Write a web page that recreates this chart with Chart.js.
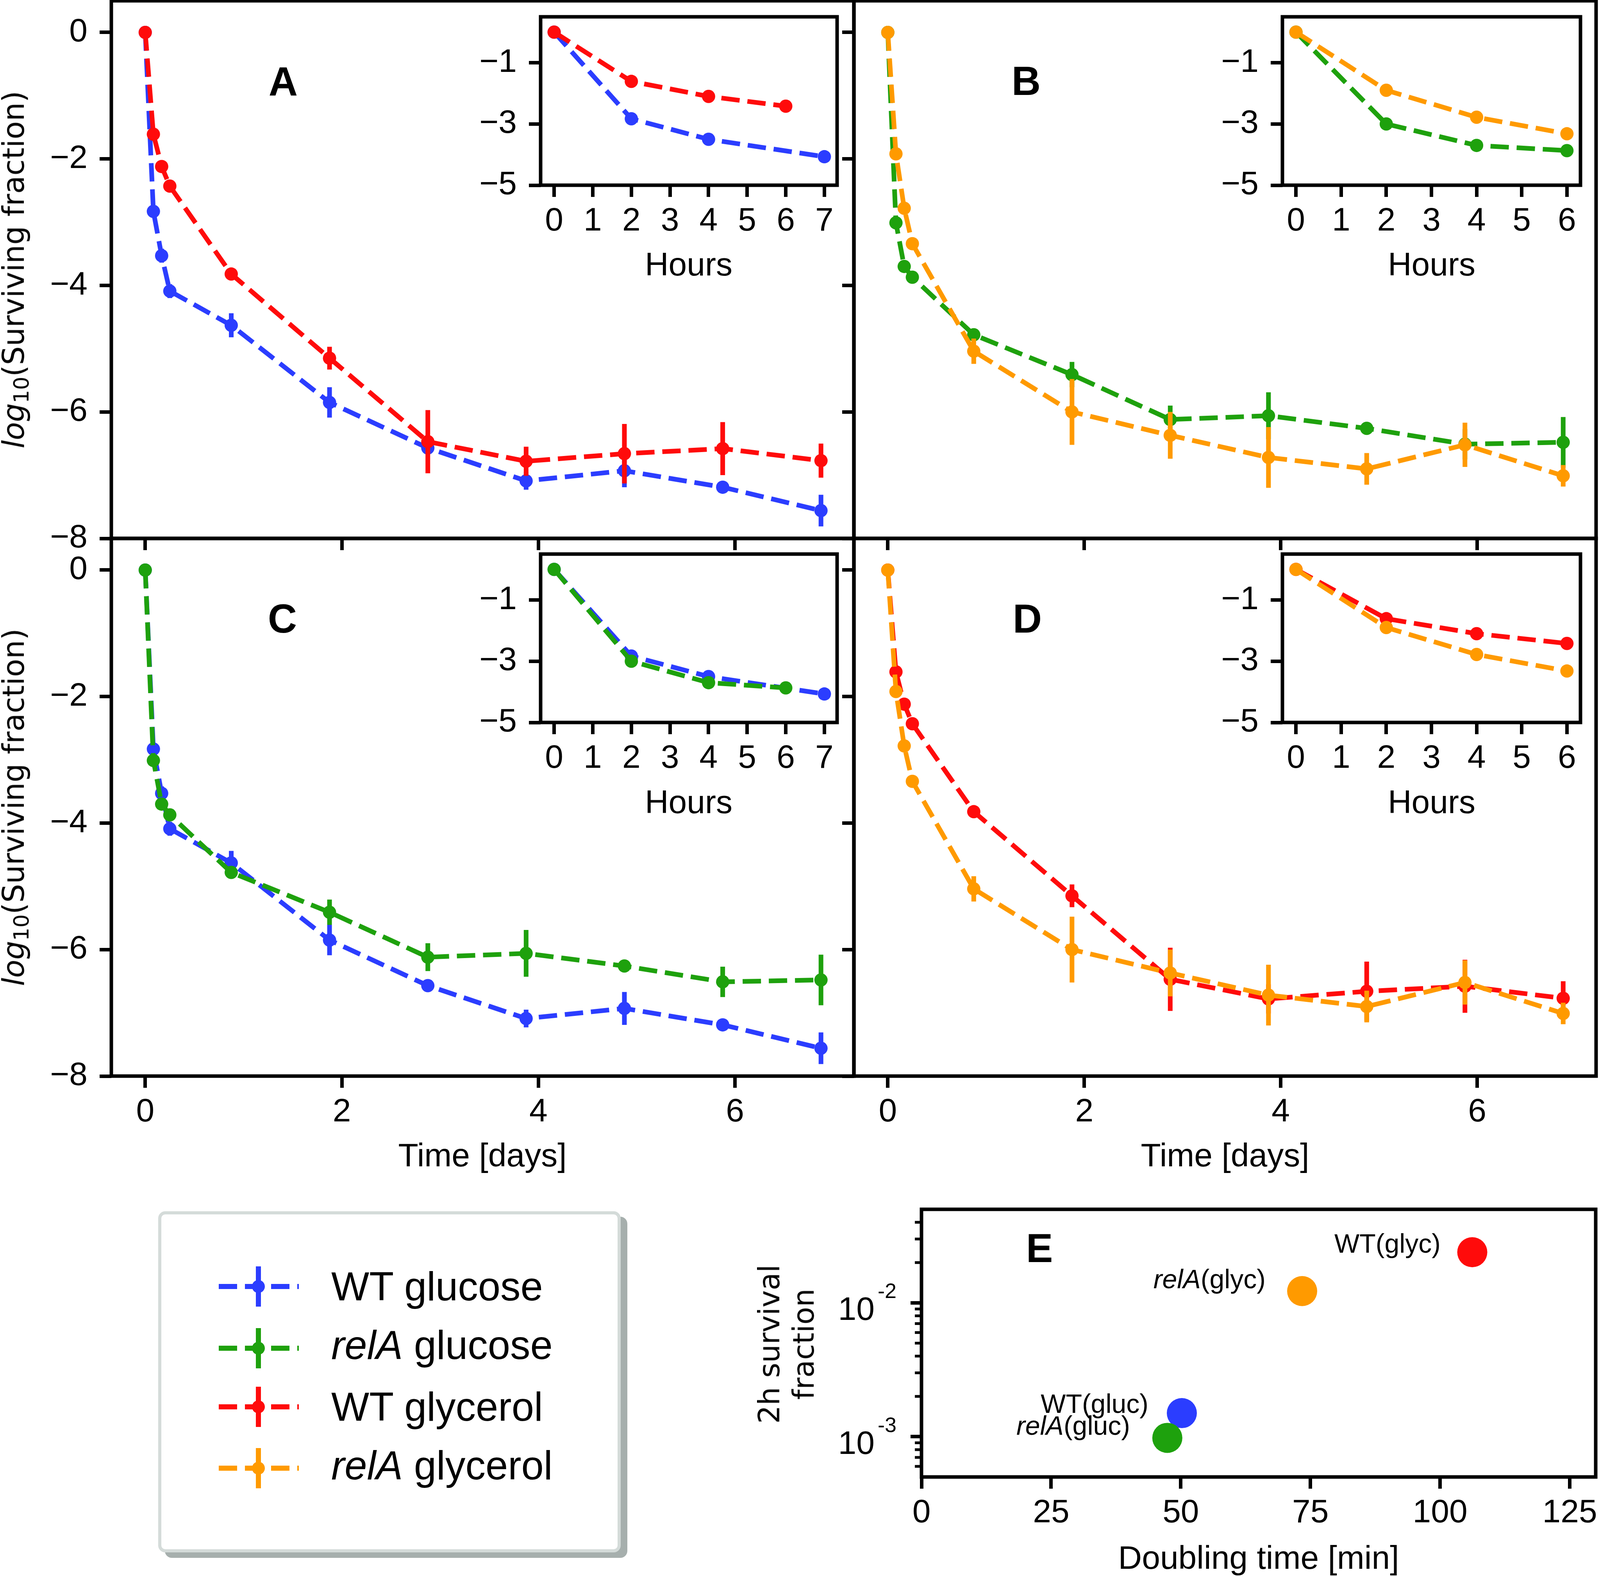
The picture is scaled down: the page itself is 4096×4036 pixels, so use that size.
<!DOCTYPE html>
<html>
<head>
<meta charset="utf-8">
<script src="https://cdn.jsdelivr.net/npm/chart.js@4.4.0/dist/chart.umd.min.js"></script>
<style>
  html, body { margin: 0; padding: 0; background: #fff; }
  body { width: 4096px; height: 4036px; position: relative; overflow: hidden; font-family: 'Liberation Sans', Arial, sans-serif; }
  canvas { position: absolute; }
  .txt { position: absolute; white-space: nowrap; line-height: 1; color: #000; }
</style>
</head>
<body>
<script>
// ---- data (log10 surviving fraction) ----
const days = [0, 0.083, 0.167, 0.25, 0.875, 1.875, 2.875, 3.875, 4.875, 5.875, 6.875];
const wtGlucose      = [0, -2.83, -3.53, -4.09, -4.63, -5.85, -6.57, -7.09, -6.93, -7.19, -7.56];
const wtGlucoseErr   = [0, 0.05, 0.11, 0.11, 0.19, 0.24, 0.09, 0.14, 0.26, 0.05, 0.25];
const relAGlucose    = [0, -3.01, -3.70, -3.87, -4.78, -5.41, -6.12, -6.06, -6.26, -6.51, -6.48];
const relAGlucoseErr = [0, 0.08, 0.05, 0.08, 0.05, 0.2, 0.22, 0.37, 0.05, 0.24, 0.4];
const wtGlycerol     = [0, -1.61, -2.12, -2.43, -3.82, -5.15, -6.47, -6.78, -6.66, -6.58, -6.77];
const wtGlycerolErr  = [0, 0.03, 0.03, 0.03, 0.06, 0.18, 0.5, 0.23, 0.47, 0.42, 0.27];
const relAGlycerol   = [0, -1.92, -2.78, -3.34, -5.04, -6.0, -6.37, -6.72, -6.9, -6.52, -7.01];
const relAGlycerolErr= [0, 0.03, 0.03, 0.03, 0.2, 0.52, 0.37, 0.48, 0.25, 0.35, 0.17];

// first hours (insets)
const hoursWtGlucose    = [0, 2, 4, 7];
const hoursOther        = [0, 2, 4, 6];
const wtGlucoseHours    = [0, -2.83, -3.5, -4.07];
const relAGlucoseHours  = [0, -3.0, -3.7, -3.87];
const wtGlycerolHours   = [0, -1.61, -2.1, -2.42];
const relAGlycerolHours = [0, -1.9, -2.78, -3.32];

// panel E
const eLabels      = ['WT(gluc)', 'relA(gluc)', 'WT(glyc)', 'relA(glyc)'];
const doublingTime = [50.2, 47.4, 106.2, 73.4];
const survival2h   = [0.0015, 0.00098, 0.0239, 0.01225];

// ticks
const dayTicks      = [0, 2, 4, 6];
const logTicks      = [-8, -6, -4, -2, 0];
const hourTicks7    = [0, 1, 2, 3, 4, 5, 6, 7];
const hourTicks6    = [0, 1, 2, 3, 4, 5, 6];
const insetTicks    = [-5, -3, -1];
const doublingTicks = [0, 25, 50, 75, 100, 125];
const survivalTicks = [1e-3, 1e-2];
const survivalExp   = ['-3', '-2'];
const survivalMinor = [6e-4, 7e-4, 8e-4, 9e-4, 2e-3, 3e-3, 4e-3, 5e-3, 6e-3, 7e-3, 8e-3, 9e-3, 2e-2, 3e-2, 4e-2];

const legendLabels = ['WT glucose', 'relA glucose', 'WT glycerol', 'relA glycerol'];
const BLUE = '#2b3dff', GREEN = '#1ea10d', RED = '#ff0b0b', ORANGE = '#ff9a00';
const seriesColors = [BLUE, GREEN, RED, ORANGE];

// ---- layout (output px) ----
const AREA = {
  A:  { l: 285,  t: 2,    r: 2186, b: 1378 },
  B:  { l: 2186, t: 2,    r: 4086, b: 1378 },
  C:  { l: 285,  t: 1378, r: 2186, b: 2754 },
  D:  { l: 2186, t: 1378, r: 4086, b: 2754 },
  iA: { l: 1384, t: 43,   r: 2143, b: 474 },
  iB: { l: 3283, t: 43,   r: 4046, b: 474 },
  iC: { l: 1384, t: 1418, r: 2143, b: 1849 },
  iD: { l: 3283, t: 1418, r: 4046, b: 1849 },
  E:  { l: 2359, t: 3095, r: 4085, b: 3780 }
};
const TICK_FONT = { family: 'Liberation Sans', size: 84, lineHeight: 1.2 };
const SPINE = 9;

function fmt(v) { return v < 0 ? '\u2212' + Math.abs(v) : String(v); }

function place(area, pad) {
  const c = document.createElement('canvas');
  const w = area.r - area.l + pad.l + pad.r;
  const h = area.b - area.t + pad.t + pad.b;
  c.width = w; c.height = h;
  c.style.width = w + 'px'; c.style.height = h + 'px';
  c.style.left = (area.l - pad.l) + 'px';
  c.style.top = (area.t - pad.t) + 'px';
  document.body.appendChild(c);
  return c;
}

const framePlugin = {
  id: 'frame',
  beforeDraw(chart, args, opts) {
    if (!opts || !opts.fill) return;
    const a = chart.chartArea, ctx = chart.ctx;
    ctx.save();
    ctx.fillStyle = '#fff';
    ctx.fillRect(a.left, a.top, a.right - a.left, a.bottom - a.top);
    ctx.restore();
  },
  afterDraw(chart) {
    const a = chart.chartArea, ctx = chart.ctx;
    ctx.save();
    ctx.strokeStyle = '#000';
    ctx.lineWidth = SPINE;
    ctx.strokeRect(a.left, a.top, a.right - a.left, a.bottom - a.top);
    ctx.restore();
  }
};

const errorBarPlugin = {
  id: 'errorBars',
  afterDatasetDraw(chart, args) {
    const ds = chart.data.datasets[args.index];
    if (!ds.errors) return;
    const ys = chart.scales.y, ctx = chart.ctx;
    ctx.save();
    ctx.setLineDash([]);
    ctx.strokeStyle = ds.borderColor;
    ctx.lineWidth = 12;
    args.meta.data.forEach((pt, i) => {
      const e = ds.errors[i];
      if (!e) return;
      const v = ds.data[i].y;
      ctx.beginPath();
      ctx.moveTo(pt.x, ys.getPixelForValue(v + e));
      ctx.lineTo(pt.x, ys.getPixelForValue(v - e));
      ctx.stroke();
    });
    ctx.restore();
  }
};

// superscript labels + minor ticks on the log axis of panel E
const logAxisPlugin = {
  id: 'logAxis',
  afterDraw(chart) {
    const ys = chart.scales.y, ctx = chart.ctx, left = chart.chartArea.left;
    ctx.save();
    ctx.strokeStyle = ctx.fillStyle = '#000';
    ctx.lineWidth = 7;
    survivalMinor.forEach(v => {
      const p = ys.getPixelForValue(v);
      ctx.beginPath(); ctx.moveTo(left, p); ctx.lineTo(left - 17, p); ctx.stroke();
    });
    ctx.textAlign = 'right';
    ctx.textBaseline = 'alphabetic';
    survivalTicks.forEach((v, i) => {
      const p = ys.getPixelForValue(v);
      const supRight = left - 64;
      ctx.font = '54px "Liberation Sans"';
      ctx.fillText(survivalExp[i], supRight, p - 12);
      const w = ctx.measureText(survivalExp[i]).width;
      ctx.font = '84px "Liberation Sans"';
      ctx.fillText('10', supRight - w - 8, p + 44);
    });
    ctx.restore();
  }
};

function axis(min, max, ticks, showLabels, size, horizontal, padding) {
  return {
    type: 'linear', min, max,
    afterBuildTicks: s => { s.ticks = ticks.map(v => ({ value: v })); },
    afterFit: s => { if (horizontal) s.height = size; else s.width = size; },
    ticks: { display: showLabels, font: TICK_FONT, color: '#000', padding, autoSkip: false, maxRotation: 0, callback: fmt },
    grid: { display: true, drawOnChartArea: false, drawTicks: true, tickLength: 30, tickWidth: SPINE, tickColor: '#000' },
    border: { display: false }
  };
}

function series(xs, ys, errs, color) {
  return {
    data: xs.map((x, i) => ({ x, y: ys[i] })),
    errors: errs,
    borderColor: color, backgroundColor: color,
    borderWidth: 12, borderDash: [47, 20],
    pointRadius: 17, pointHoverRadius: 17, pointBorderWidth: 0,
    pointBackgroundColor: color, tension: 0, fill: false
  };
}

function panel(area, datasets, o) {
  const pad = { l: 220, r: 120, t: 120, b: 220 };
  return new Chart(place(area, pad), {
    type: 'line',
    data: { datasets },
    options: {
      responsive: false, animation: false, devicePixelRatio: 1, events: [],
      layout: { padding: { left: 0, top: pad.t, right: pad.r, bottom: 0 } },
      plugins: { legend: { display: false }, tooltip: { enabled: false }, frame: { fill: !!o.fill } },
      scales: {
        x: axis(o.xMin, o.xMax, o.xTicks, o.xLabels, pad.b, true, 12),
        y: axis(o.yMin, 0.5, o.yTicks, o.yLabels, pad.l, false, 31)
      }
    },
    plugins: [framePlugin, errorBarPlugin]
  });
}

// main panels (top-most series listed first)
const MAIN = { xMin: -0.345, xMax: 7.21, xTicks: dayTicks, yMin: -8, yTicks: logTicks };
panel(AREA.A, [series(days, wtGlycerol, wtGlycerolErr, RED), series(days, wtGlucose, wtGlucoseErr, BLUE)],
  Object.assign({}, MAIN, { xLabels: false, yLabels: true }));
panel(AREA.B, [series(days, relAGlycerol, relAGlycerolErr, ORANGE), series(days, relAGlucose, relAGlucoseErr, GREEN)],
  Object.assign({}, MAIN, { xLabels: false, yLabels: false }));
panel(AREA.C, [series(days, relAGlucose, relAGlucoseErr, GREEN), series(days, wtGlucose, wtGlucoseErr, BLUE)],
  Object.assign({}, MAIN, { xLabels: true, yLabels: true }));
panel(AREA.D, [series(days, relAGlycerol, relAGlycerolErr, ORANGE), series(days, wtGlycerol, wtGlycerolErr, RED)],
  Object.assign({}, MAIN, { xLabels: true, yLabels: false }));

// insets
const IN7 = { xMin: -0.35, xMax: 7.33, xTicks: hourTicks7, yMin: -5, yTicks: insetTicks, xLabels: true, yLabels: true, fill: true };
const IN6 = { xMin: -0.3, xMax: 6.3, xTicks: hourTicks6, yMin: -5, yTicks: insetTicks, xLabels: true, yLabels: true, fill: true };
panel(AREA.iA, [series(hoursOther, wtGlycerolHours, null, RED), series(hoursWtGlucose, wtGlucoseHours, null, BLUE)], IN7);
panel(AREA.iB, [series(hoursOther, relAGlycerolHours, null, ORANGE), series(hoursOther, relAGlucoseHours, null, GREEN)], IN6);
panel(AREA.iC, [series(hoursOther, relAGlucoseHours, null, GREEN), series(hoursWtGlucose, wtGlucoseHours, null, BLUE)], IN7);
panel(AREA.iD, [series(hoursOther, relAGlycerolHours, null, ORANGE), series(hoursOther, wtGlycerolHours, null, RED)], IN6);

// panel E
(function () {
  const pad = { l: 280, r: 120, t: 120, b: 220 };
  const yAxis = {
    type: 'logarithmic', min: 5e-4, max: 5e-2,
    afterBuildTicks: s => { s.ticks = survivalTicks.map(v => ({ value: v })); },
    afterFit: s => { s.width = pad.l; },
    ticks: { display: false },
    grid: { display: true, drawOnChartArea: false, drawTicks: true, tickLength: 28, tickWidth: SPINE, tickColor: '#000' },
    border: { display: false }
  };
  new Chart(place(AREA.E, pad), {
    type: 'scatter',
    data: {
      datasets: eLabels.map((name, i) => ({
        label: name,
        data: [{ x: doublingTime[i], y: survival2h[i] }],
        pointRadius: 38.5, pointHoverRadius: 38.5, pointBorderWidth: 0,
        pointBackgroundColor: seriesColors[i], backgroundColor: seriesColors[i],
        order: -i
      }))
    },
    options: {
      responsive: false, animation: false, devicePixelRatio: 1, events: [],
      layout: { padding: { left: 0, top: pad.t, right: pad.r, bottom: 0 } },
      plugins: { legend: { display: false }, tooltip: { enabled: false } },
      scales: { x: axis(0, 130, doublingTicks, true, pad.b, true, 12), y: yAxis }
    },
    plugins: [framePlugin, logAxisPlugin]
  });
})();

// ---- text ----
function addText(html, x, baseline, size, o) {
  o = o || {};
  const d = document.createElement('div');
  d.className = 'txt';
  d.innerHTML = html;
  d.style.fontSize = size + 'px';
  d.style.fontFamily = o.family || "'Liberation Sans'";
  if (o.bold) d.style.fontWeight = 'bold';
  d.style.left = x + 'px';
  d.style.top = (baseline - 0.846 * size) + 'px';
  const tx = o.align === 'center' ? '-50%' : o.align === 'right' ? '-100%' : '0';
  d.style.transform = 'translateX(' + tx + ')';
  document.body.appendChild(d);
}
function addRotated(html, cx, cy, size, lineH) {
  const d = document.createElement('div');
  d.className = 'txt';
  d.innerHTML = html;
  d.style.fontFamily = "'DejaVu Sans'";
  d.style.fontSize = size + 'px';
  d.style.lineHeight = lineH + 'px';
  d.style.textAlign = 'center';
  d.style.left = cx + 'px';
  d.style.top = cy + 'px';
  d.style.transform = 'translate(-50%, -50%) rotate(-90deg)';
  document.body.appendChild(d);
}
const italicRelA = s => s.replace('relA', '<i>relA</i>');

const ylab = '<i>log</i><span style="font-size:0.7em;position:relative;top:0.22em">10</span>(Surviving fraction)';
addRotated(ylab, 39, 690, 76, 76);
addRotated(ylab, 39, 2066, 76, 76);
addRotated('2h survival<br>fraction', 2013, 3440, 74, 88);

addText('Time [days]', 1235, 2985, 84, { align: 'center' });
addText('Time [days]', 3136, 2985, 84, { align: 'center' });
addText('Doubling time [min]', 3222, 4015, 84, { align: 'center' });
addText('Hours', 1763, 705, 84, { align: 'center' });
addText('Hours', 3665, 705, 84, { align: 'center' });
addText('Hours', 1763, 2081, 84, { align: 'center' });
addText('Hours', 3665, 2081, 84, { align: 'center' });

addText('A', 725, 244, 103, { align: 'center', bold: true });
addText('B', 2627, 243, 103, { align: 'center', bold: true });
addText('C', 723, 1619, 103, { align: 'center', bold: true });
addText('D', 2630, 1619, 103, { align: 'center', bold: true });
addText('E', 2661, 3230, 103, { align: 'center', bold: true });

// panel E annotations
const eLabelPos = [[2940, 3616], [2893, 3672], [3688, 3206], [3240, 3297]];
eLabels.forEach((name, i) => addText(italicRelA(name), eLabelPos[i][0], eLabelPos[i][1], 68, { align: 'right' }));

// ---- legend ----
(function () {
  const box = document.createElement('div');
  box.style.cssText = 'position:absolute;left:405px;top:3100px;width:1184px;height:873px;box-sizing:border-box;' +
    'border:8px solid #d4dbd9;border-radius:18px;background:#fff;box-shadow:17px 14px 0 #a6afad;';
  document.body.appendChild(box);
  const rows = [3292, 3450, 3600, 3757];
  const bases = [3328, 3478, 3636, 3786];
  legendLabels.forEach((lab, i) => {
    const c = seriesColors[i], y = rows[i];
    const line = document.createElement('div');
    line.style.cssText = 'position:absolute;left:560px;width:205px;height:13px;top:' + (y - 6.5) + 'px;' +
      'background:repeating-linear-gradient(90deg,' + c + ' 0 47px,transparent 47px 67px);';
    document.body.appendChild(line);
    const bar = document.createElement('div');
    bar.style.cssText = 'position:absolute;left:654.5px;width:13px;height:103px;top:' + (y - 51.5) + 'px;background:' + c + ';';
    document.body.appendChild(bar);
    const dot = document.createElement('div');
    dot.style.cssText = 'position:absolute;left:644.5px;width:33px;height:33px;border-radius:50%;top:' + (y - 16.5) + 'px;background:' + c + ';';
    document.body.appendChild(dot);
    addText(italicRelA(lab), 848, bases[i], 103);
  });
})();
</script>
</body>
</html>
